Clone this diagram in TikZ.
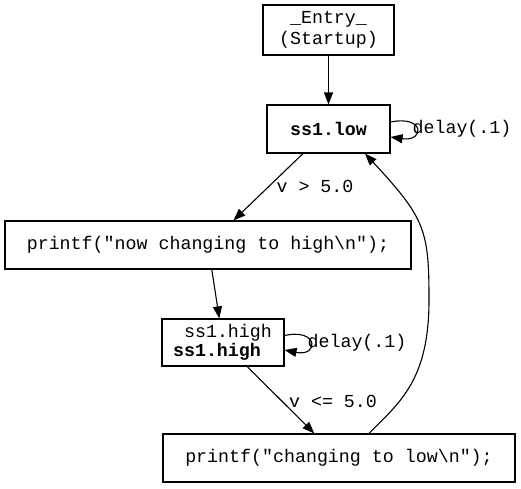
\documentclass[tikz,border=0pt]{standalone}
\usepackage{fontspec}
\newfontfamily\cour{Liberation Mono}
\usetikzlibrary{arrows.meta}
\tikzset{
  box/.style={draw, line width=1.1pt, inner sep=0pt, font=\cour\fontsize{18.3}{20.5}\selectfont, align=center},
  lbl/.style={inner sep=0pt, font=\cour\fontsize{18.3}{20.5}\selectfont},
  edge/.style={line width=1.1pt, -{Triangle[length=12pt,width=9pt]}},
}
\begin{document}
\begin{tikzpicture}[x=1pt,y=-1pt]
\useasboundingbox (0,0) rectangle (521,488);
\node[box, minimum width=131pt, minimum height=50pt] (entry) at (328.5,30) {\_Entry\_\\(Startup)};
\node[box, minimum width=123pt, minimum height=48pt] (low) at (328.5,129) {\bfseries ss1.low};
\node[box, minimum width=406pt, minimum height=48pt] (now) at (208,245) {printf("now changing to high\textbackslash n");};
\node[box, minimum width=122pt, minimum height=47pt] (high) at (223,342.5) {};
\node[lbl] (hightop) at (228,333) {ss1.high};
\node[lbl] (highbot) at (217,351.5) {\bfseries ss1.high};
\node[box, minimum width=352pt, minimum height=48pt] (lowp) at (339,458) {printf("changing to low\textbackslash n");};

\draw[edge] (entry) -- (low);
\draw[edge] (low) -- (now);
\draw[edge] (now) -- (high);
\draw[edge] (high) -- (lowp);
\draw[edge] (lowp.north -| 369,0) .. controls (400,402) and (429,380) .. (429,300)
  .. controls (429,230) and (425,218) .. (low.south -| 365,0);
\draw[edge] (low.east |- 0,122) .. controls (425,115) and (425,142) .. (low.east |- 0,137);
\draw[edge] (high.east |- 0,335.5) .. controls (319,328) and (319,357) .. (high.east |- 0,350);

\node[lbl] (c1) at (315,186) {v > 5.0};
\node[lbl] (c2) at (333,401) {v <= 5.0};
\node[lbl] (d1) at (462,129) {delay(.1)};
\node[lbl] (d2) at (357,343) {delay(.1)};
\end{tikzpicture}
\end{document}
